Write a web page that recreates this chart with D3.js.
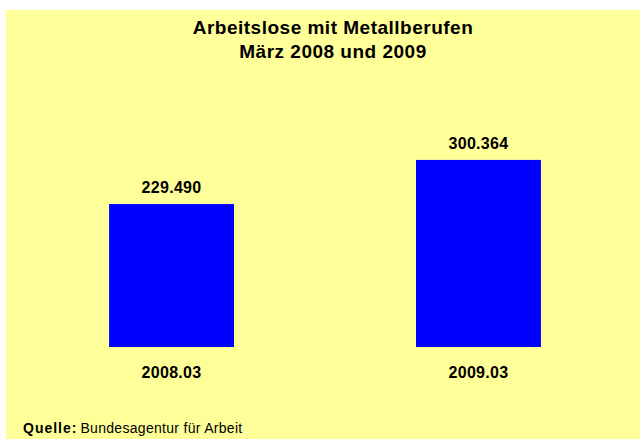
<!DOCTYPE html>
<html>
<head>
<meta charset="utf-8">
<script src="https://cdn.jsdelivr.net/npm/d3@7"></script>
<style>
  html, body { margin: 0; padding: 0; background: #fff; }
  svg { display: block; font-family: "Liberation Sans", Arial, sans-serif; }
</style>
</head>
<body>
<svg id="chart" width="640" height="439"></svg>
<script>
// --- data ---
const categories = ["2008.03", "2009.03"];
const values = [229.490, 300.364];           // Tausend
const valueLabels = ["229.490", "300.364"];
const titleLines = ["Arbeitslose mit Metallberufen", "März 2008 und 2009"];

const svg = d3.select("#chart");

// yellow panel
svg.append("rect")
    .attr("x", 6).attr("y", 10)
    .attr("width", 634).attr("height", 429)
    .attr("fill", "#ffff99");

// title
svg.append("g").selectAll("text")
    .data(titleLines)
    .enter().append("text")
    .attr("x", 333)
    .attr("y", (d, i) => 34 + i * 24)
    .attr("text-anchor", "middle")
    .attr("font-size", 19)
    .attr("font-weight", "bold")
    .attr("letter-spacing", 0.5)
    .text(d => d);

// scales
const x = d3.scaleBand()
    .domain(categories)
    .range([17, 633])
    .paddingInner(0.593)
    .paddingOuter(0.3);

const y = d3.scaleLinear()
    .domain([0, 350])
    .range([347, 129]);

// bars
svg.append("g").selectAll("rect")
    .data(values)
    .enter().append("rect")
    .attr("x", (d, i) => x(categories[i]))
    .attr("width", x.bandwidth())
    .attr("y", d => y(d))
    .attr("height", d => y(0) - y(d))
    .attr("fill", "#0000ff");

// value labels
svg.append("g").selectAll("text")
    .data(values)
    .enter().append("text")
    .attr("x", (d, i) => x(categories[i]) + x.bandwidth() / 2)
    .attr("y", d => y(d) - 11)
    .attr("text-anchor", "middle")
    .attr("font-size", 16)
    .attr("font-weight", "bold")
    .attr("letter-spacing", 0.3)
    .text((d, i) => valueLabels[i]);

// category axis (no line, no ticks)
const xAxis = svg.append("g")
    .attr("transform", `translate(0,${y(0)})`)
    .call(d3.axisBottom(x).tickSize(0).tickPadding(31));
xAxis.select(".domain").remove();
xAxis.selectAll("text")
    .attr("font-family", "Liberation Sans, Arial, sans-serif")
    .attr("font-size", 16)
    .attr("font-weight", "bold")
    .attr("letter-spacing", 0.3)
    .attr("fill", "#000")
    .attr("dy", 0);

// source
const src = svg.append("text")
    .attr("x", 23).attr("y", 433)
    .attr("font-size", 14)
    .attr("letter-spacing", 0.3);
src.append("tspan")
    .attr("font-weight", "bold")
    .attr("letter-spacing", 1)
    .text("Quelle:");
src.append("tspan")
    .attr("dx", 3)
    .text("Bundesagentur für Arbeit");
</script>
</body>
</html>
